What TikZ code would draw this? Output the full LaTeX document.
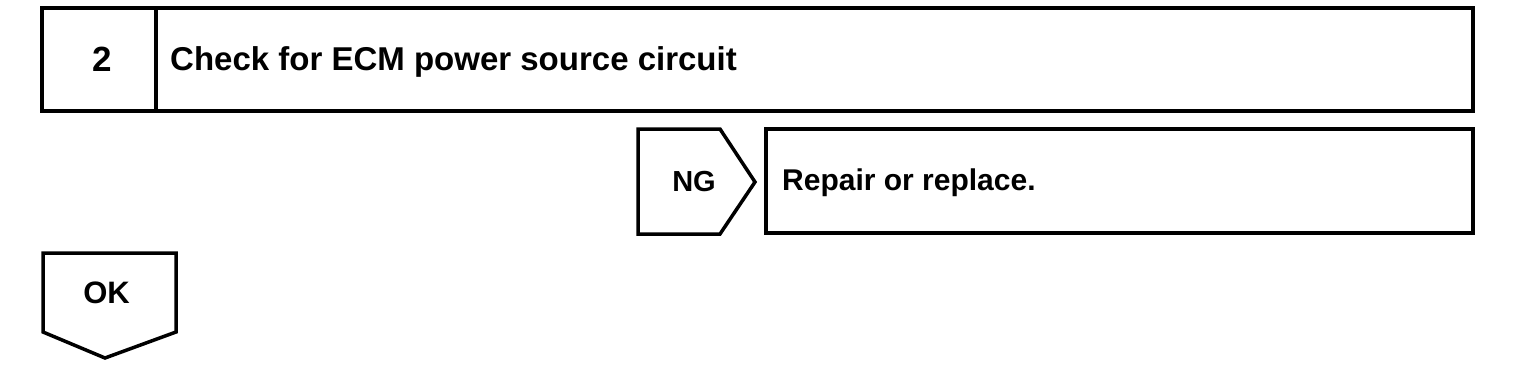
\documentclass[tikz,border=0pt]{standalone}
\usepackage{fontspec}
\setmainfont{Liberation Sans}
\begin{document}
\begin{tikzpicture}[x=1pt,y=-1pt,
  box/.style={draw=black,line width=3.5pt,line join=miter},
  lbl/.style={font=\fontsize{33}{38}\selectfont\bfseries,inner sep=0pt},
  sml/.style={font=\fontsize{30}{36}\selectfont\bfseries,inner sep=0pt}]
\useasboundingbox (0,0) rectangle (1536,368);
% top box
\draw[box] (42,8) rectangle (1473,111);
\draw[box] (156,8) -- (156,111);
\node[lbl,font=\fontsize{35}{40}\selectfont\bfseries,anchor=base] (num) at (102.5,71) {2};
\node[lbl,anchor=base west] (title) at (170,70) {Check for ECM power source circuit};
% NG pointer
\draw[box] (638,129) -- (720,129) -- (755,182) -- (720,234) -- (638,234) -- cycle;
\node[sml,font=\fontsize{29}{34}\selectfont\bfseries,anchor=base] (ng) at (694,191) {NG};
% repair box
\draw[box] (766,129) rectangle (1473,233);
\node[sml,anchor=base west] (repair) at (782,190) {Repair or replace.};
% OK pointer
\draw[box] (43,253) -- (176,253) -- (176,332) -- (105,358) -- (43,332) -- cycle;
\node[sml,font=\fontsize{31}{36}\selectfont\bfseries,anchor=base] (ok) at (106.5,303) {OK};
\end{tikzpicture}
\end{document}
